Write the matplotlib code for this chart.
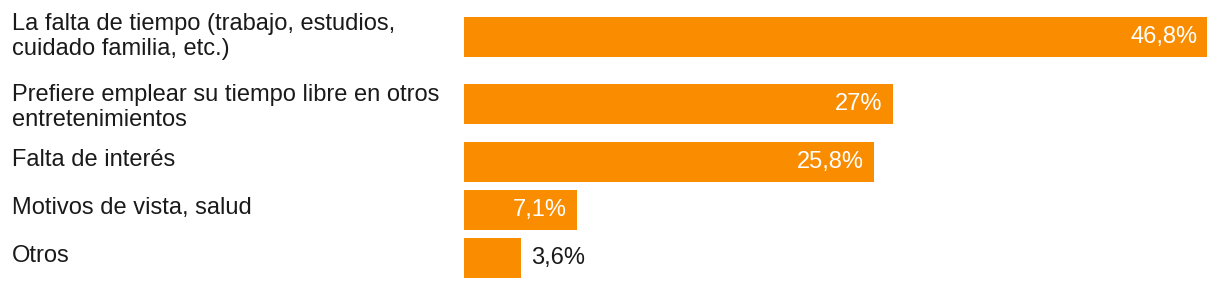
import matplotlib
matplotlib.use("Agg")
import matplotlib.pyplot as plt

plt.rcParams['font.family'] = ['Liberation Sans', 'DejaVu Sans']

# Datos
motivos = [
    "La falta de tiempo (trabajo, estudios,\ncuidado familia, etc.)",
    "Prefiere emplear su tiempo libre en otros\nentretenimientos",
    "Falta de interés",
    "Motivos de vista, salud",
    "Otros",
]
porcentajes = [46.8, 27, 25.8, 7.1, 3.6]
etiquetas = ["46,8%", "27%", "25,8%", "7,1%", "3,6%"]

# Disposición (pixeles de la figura)
W, H = 1220, 288
centros_y = [37.3, 103.5, 162, 210, 258]
base_texto = [30, 101, 166, 214, 262]   # línea base de la primera línea de cada etiqueta
interlinea = 25
alto_barra = 40
x0 = 464
px_por_pct = 15.88
color = '#fa8c00'

fig = plt.figure(figsize=(W / 100, H / 100), dpi=100)
ax = fig.add_axes([x0 / W, 0, 1 - x0 / W, 1])
ax.set_xlim(0, (W - x0) / px_por_pct)
ax.set_ylim(H, 0)
ax.axis('off')

ax.barh(centros_y, porcentajes, height=alto_barra, color=color)

pad = 10 / px_por_pct
for y, v, lab in zip(centros_y, porcentajes, etiquetas):
    if v > 5:
        ax.text(v - pad, y + 6, lab, ha='right', va='baseline', color='white', fontsize=17)
    else:
        ax.text(v + pad, y + 6, lab, ha='left', va='baseline', color='#1a1a1a', fontsize=17)

for yb, texto in zip(base_texto, motivos):
    for i, linea in enumerate(texto.split('\n')):
        fig.text(12 / W, 1 - (yb + i * interlinea) / H, linea, ha='left', va='baseline',
                 fontsize=17, color='#1a1a1a')

plt.savefig('out.png', dpi=100)
